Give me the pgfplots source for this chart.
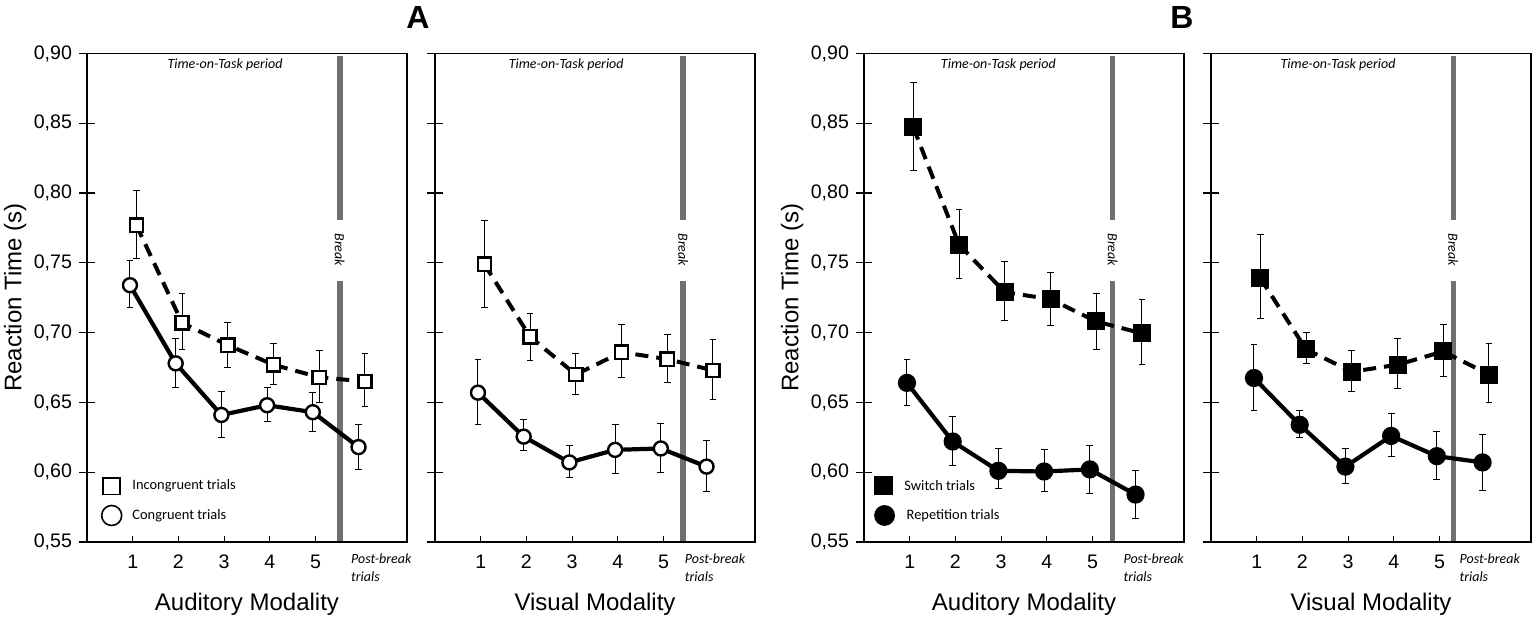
\documentclass[border=0pt]{standalone}
\usepackage{pgfplots}
\pgfplotsset{compat=1.18}
\usepackage{pgfplotstable}
\usepackage{fontspec}
\setmainfont{Liberation Sans}
\newfontfamily\calibri{Carlito}
\definecolor{breakgray}{HTML}{707070}

\pgfplotstableread{
x y ep em
1.08 0.777 0.025 0.024
2.08 0.707 0.021 0.019
3.08 0.691 0.016 0.016
4.08 0.677 0.015 0.014
5.08 0.668 0.019 0.018
6.08 0.665 0.020 0.018
}\AAinc
\pgfplotstableread{
x y ep em
0.94 0.734 0.018 0.016
1.94 0.678 0.018 0.017
2.94 0.641 0.017 0.016
3.94 0.648 0.013 0.012
4.94 0.643 0.014 0.014
5.94 0.618 0.016 0.016
}\AAcon
\pgfplotstableread{
x y ep em
1.08 0.749 0.031 0.031
2.08 0.697 0.017 0.017
3.08 0.670 0.015 0.014
4.08 0.686 0.020 0.018
5.08 0.681 0.018 0.017
6.08 0.673 0.022 0.021
}\AVinc
\pgfplotstableread{
x y ep em
0.94 0.657 0.024 0.023
1.94 0.6255 0.012 0.010
2.94 0.607 0.012 0.011
3.94 0.616 0.018 0.017
4.94 0.617 0.018 0.017
5.94 0.604 0.019 0.018
}\AVcon
\pgfplotstableread{
x y ep em
1.08 0.847 0.032 0.031
2.08 0.763 0.025 0.024
3.08 0.729 0.022 0.020
4.08 0.724 0.019 0.019
5.08 0.708 0.020 0.020
6.08 0.6995 0.024 0.022
}\BAsw
\pgfplotstableread{
x y ep em
0.94 0.664 0.017 0.016
1.94 0.622 0.018 0.017
2.94 0.601 0.016 0.013
3.94 0.6005 0.016 0.014
4.94 0.602 0.017 0.017
5.94 0.584 0.017 0.017
}\BArep
\pgfplotstableread{
x y ep em
1.08 0.739 0.031 0.029
2.08 0.688 0.012 0.010
3.08 0.672 0.015 0.014
4.08 0.677 0.019 0.017
5.08 0.6865 0.019 0.018
6.08 0.670 0.022 0.020
}\BVsw
\pgfplotstableread{
x y ep em
0.94 0.6675 0.024 0.023
1.94 0.634 0.010 0.009
2.94 0.604 0.013 0.012
3.94 0.626 0.016 0.015
4.94 0.6115 0.018 0.017
5.94 0.607 0.020 0.020
}\BVrep

\pgfplotsset{
  panel/.style={
    scale only axis, width=160pt, height=244.25pt,
    anchor=south west,
    xmin=0, xmax=7, ymin=0.55, ymax=0.90,
    xtick={1,2,3,4,5}, xticklabels={1,2,3,4,5},
    ytick={0.55,0.60,0.65,0.70,0.75,0.80,0.85,0.90},
    xtick pos=bottom, ytick pos=left,
    xtick align=inside, ytick align=center,
    major tick length=8pt,
    xtick style={/pgfplots/major tick length=3pt},
    axis line style={line width=0.65pt},
    tick style={black, line width=0.6pt},
    tick label style={font=\fontsize{9.8}{10}\selectfont},
    xticklabel style={yshift=-3pt},
    every axis x label/.style={at={(axis description cs:0.5,-0.1406)}, anchor=base, font=\fontsize{12}{12}\selectfont},
    every axis y label/.style={at={(axis description cs:-0.205,0.5)}, rotate=90, anchor=base, font=\fontsize{12}{12}\selectfont},
    clip=false,
  },
  dashedline/.style={black, line width=2pt, dash pattern=on 6.5pt off 4pt},
  solidline/.style={black, line width=2.1pt, solid},
  errs/.style={draw=none, forget plot,
    error bars/.cd, y dir=both, y explicit, error mark=-,
    error bar style={draw=black, solid, line width=0.5pt},
    error mark options={rotate=90, draw=black, solid, line width=0.5pt, mark size=1.7pt}},
  brk/.style={forget plot, color=breakgray, line width=2.75pt},
}
\newcommand{\ttext}{\calibri\itshape\fontsize{7}{9}\selectfont}

\begin{document}
\begin{tikzpicture}
\path[use as bounding box] (0pt,0pt) rectangle (767.5pt,309.5pt);

% ---------------- Panel A auditory
\begin{axis}[panel, at={(43.5pt,38.5pt)},
  yticklabels={{0,55},{0,60},{0,65},{0,70},{0,75},{0,80},{0,85},{0,90}},
  xlabel={Auditory Modality}, ylabel={Reaction Time (s)}]
\addplot[brk] coordinates {(5.53,0.5505) (5.53,0.7367)};
\addplot[brk] coordinates {(5.53,0.7807) (5.53,0.8985)};
\addplot[errs] table[x=x,y=y,y error plus=ep,y error minus=em]{\AAinc};
\addplot[errs] table[x=x,y=y,y error plus=ep,y error minus=em]{\AAcon};
\addplot[dashedline, mark=square*, mark size=3.3pt, mark options={solid, fill=white, line width=1.2pt}] table[x=x,y=y]{\AAinc};
\addplot[solidline, mark=*, mark size=3.5pt, mark options={solid, fill=white, line width=1.2pt}] table[x=x,y=y]{\AAcon};
\addplot[only marks, mark=square*, mark size=4.2pt, mark options={fill=white, draw=black, line width=0.8pt}] coordinates {(0.54,0.590)};
\addplot[only marks, mark=*, mark size=5pt, mark options={fill=white, draw=black, line width=0.8pt}] coordinates {(0.54,0.569)};
\node[anchor=west, font=\calibri\fontsize{7.2}{8}\selectfont] at (axis cs:0.84,0.590) {Incongruent trials};
\node[anchor=west, font=\calibri\fontsize{7.2}{8}\selectfont] at (axis cs:0.84,0.569) {Congruent trials};
\node[font=\ttext] at (axis cs:3.02,0.892) {Time-on-Task period};
\node[rotate=-90, font=\ttext, inner sep=0pt] at (axis cs:5.53,0.7593) {Break};
\node[anchor=north west, align=left, font=\ttext, inner sep=0pt] at (axis cs:5.77,0.55) [yshift=-5.5pt] {Post-break\\trials};
\end{axis}

% ---------------- Panel A visual
\begin{axis}[panel, at={(217.5pt,38.5pt)}, yticklabels={},
  xlabel={Visual Modality}]
\addplot[brk] coordinates {(5.43,0.5505) (5.43,0.7367)};
\addplot[brk] coordinates {(5.43,0.7807) (5.43,0.8985)};
\addplot[errs] table[x=x,y=y,y error plus=ep,y error minus=em]{\AVinc};
\addplot[errs] table[x=x,y=y,y error plus=ep,y error minus=em]{\AVcon};
\addplot[dashedline, mark=square*, mark size=3.3pt, mark options={solid, fill=white, line width=1.2pt}] table[x=x,y=y]{\AVinc};
\addplot[solidline, mark=*, mark size=3.5pt, mark options={solid, fill=white, line width=1.2pt}] table[x=x,y=y]{\AVcon};
\node[font=\ttext] at (axis cs:2.87,0.892) {Time-on-Task period};
\node[rotate=-90, font=\ttext, inner sep=0pt] at (axis cs:5.43,0.7593) {Break};
\node[anchor=north west, align=left, font=\ttext, inner sep=0pt] at (axis cs:5.46,0.55) [yshift=-5.5pt] {Post-break\\trials};
\end{axis}

% ---------------- Panel B auditory
\begin{axis}[panel, at={(432pt,38.5pt)},
  yticklabels={{0,55},{0,60},{0,65},{0,70},{0,75},{0,80},{0,85},{0,90}},
  xlabel={Auditory Modality}, ylabel={Reaction Time (s)}]
\addplot[brk] coordinates {(5.44,0.5505) (5.44,0.7367)};
\addplot[brk] coordinates {(5.44,0.7807) (5.44,0.8985)};
\addplot[errs] table[x=x,y=y,y error plus=ep,y error minus=em]{\BAsw};
\addplot[errs] table[x=x,y=y,y error plus=ep,y error minus=em]{\BArep};
\addplot[dashedline, mark=square*, mark size=3.5pt, mark options={solid, fill=black}] table[x=x,y=y]{\BAsw};
\addplot[solidline, mark=*, mark size=3.5pt, mark options={solid, fill=black}] table[x=x,y=y]{\BArep};
\addplot[only marks, mark=square*, mark size=4.4pt, mark options={fill=black, draw=black}] coordinates {(0.43,0.5905)};
\addplot[only marks, mark=*, mark size=5pt, mark options={fill=black, draw=black}] coordinates {(0.45,0.569)};
\node[anchor=west, font=\calibri\fontsize{7.2}{8}\selectfont] at (axis cs:0.73,0.5905) {Switch trials};
\node[anchor=west, font=\calibri\fontsize{7.2}{8}\selectfont] at (axis cs:0.78,0.569) {Repetition trials};
\node[font=\ttext] at (axis cs:2.94,0.892) {Time-on-Task period};
\node[rotate=-90, font=\ttext, inner sep=0pt] at (axis cs:5.44,0.7593) {Break};
\node[anchor=north west, align=left, font=\ttext, inner sep=0pt] at (axis cs:5.67,0.55) [yshift=-5.5pt] {Post-break\\trials};
\end{axis}

% ---------------- Panel B visual
\begin{axis}[panel, at={(605.5pt,38.5pt)}, yticklabels={},
  xlabel={Visual Modality}]
\addplot[brk] coordinates {(5.3,0.5505) (5.3,0.7367)};
\addplot[brk] coordinates {(5.3,0.7807) (5.3,0.8985)};
\addplot[errs] table[x=x,y=y,y error plus=ep,y error minus=em]{\BVsw};
\addplot[errs] table[x=x,y=y,y error plus=ep,y error minus=em]{\BVrep};
\addplot[dashedline, mark=square*, mark size=3.5pt, mark options={solid, fill=black}] table[x=x,y=y]{\BVsw};
\addplot[solidline, mark=*, mark size=3.5pt, mark options={solid, fill=black}] table[x=x,y=y]{\BVrep};
\node[font=\ttext] at (axis cs:2.78,0.892) {Time-on-Task period};
\node[rotate=-90, font=\ttext, inner sep=0pt] at (axis cs:5.3,0.7593) {Break};
\node[anchor=north west, align=left, font=\ttext, inner sep=0pt] at (axis cs:5.43,0.55) [yshift=-5.5pt] {Post-break\\trials};
\end{axis}

\node[font=\bfseries\fontsize{16}{16}\selectfont] at (209pt,300.5pt) {A};
\node[font=\bfseries\fontsize{16}{16}\selectfont] at (591pt,300.5pt) {B};
\end{tikzpicture}
\end{document}
